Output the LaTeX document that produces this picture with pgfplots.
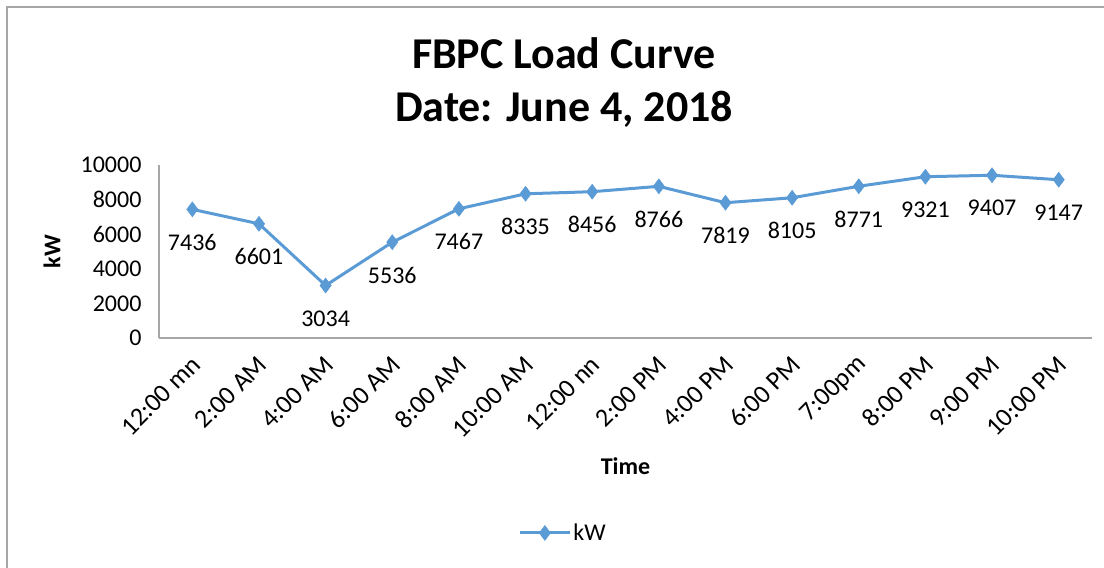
\documentclass[border=0pt]{standalone}
\usepackage{pgfplots}
\pgfplotsset{compat=1.18}
\usepackage{fontspec}
\setmainfont{Carlito}
\definecolor{xlblue}{HTML}{5B9BD5}
\definecolor{axgray}{HTML}{A6A6A6}
\begin{document}
\begin{tikzpicture}[x=1bp,y=1bp]
\path[use as bounding box] (0,0) rectangle (1104,568);
\draw[axgray, line width=1.5bp] (7,0) -- (7,561) -- (1104,561);
\node[font=\fontsize{44bp}{53bp}\selectfont\bfseries, align=center] at (564,485) {FBPC Load Curve\\Date: June 4, 2018};
\begin{axis}[
  at={(159bp,230bp)}, anchor=south west,
  scale only axis, width=933bp, height=173bp,
  xmin=-0.5, xmax=13.5, ymin=0, ymax=10000,
  xtick=data,
  xticklabels={12:00 mn,2:00 AM,4:00 AM,6:00 AM,8:00 AM,10:00 AM,12:00 nn,2:00 PM,4:00 PM,6:00 PM,7:00pm,8:00 PM,9:00 PM,10:00 PM},
  ytick={0,2000,4000,6000,8000,10000},
  scaled y ticks=false,
  /pgf/number format/assume math mode=true,
  /pgf/number format/1000 sep={},
  axis x line*=bottom, axis y line*=left,
  axis line style={axgray, line width=1.2bp, -},
  major tick length=0pt,
  tick label style={font=\fontsize{24bp}{28bp}\selectfont},
  xticklabel style={font=\fontsize{26bp}{30bp}\selectfont, xshift=6bp, yshift=-20bp, rotate=45, anchor=east},
  yticklabel style={xshift=-14bp},
  xlabel={Time}, ylabel={kW},
  label style={font=\fontsize{24bp}{28bp}\selectfont\bfseries},
  xlabel style={at={(axis description cs:0.5,-0.74)}, anchor=center},
  ylabel style={at={(axis description cs:-0.1147,0.5)}, anchor=center},
  legend style={at={(0.433,-1.127)}, anchor=center, draw=none, fill=none,
    font=\fontsize{24bp}{28bp}\selectfont, legend columns=1},
  legend image code/.code={\draw[#1, mark repeat=2, mark phase=2] plot coordinates {(0bp,0bp) (25bp,0bp) (50bp,0bp)};},
  clip=false,
]
\addplot[xlblue, line width=3bp, mark=diamond*, mark size=7.5bp, mark options={fill=xlblue, draw=xlblue, line width=0.5bp},
  nodes near coords, point meta=explicit symbolic,
  every node near coord/.append style={anchor=center, yshift=-33bp, text=black, font=\fontsize{24bp}{28bp}\selectfont}]
coordinates {
(0,7436) [7436]
(1,6601) [6601]
(2,3034) [3034]
(3,5536) [5536]
(4,7467) [7467]
(5,8335) [8335]
(6,8456) [8456]
(7,8766) [8766]
(8,7819) [7819]
(9,8105) [8105]
(10,8771) [8771]
(11,9321) [9321]
(12,9407) [9407]
(13,9147) [9147]
};
\addlegendentry{kW}
\end{axis}
\end{tikzpicture}
\end{document}
